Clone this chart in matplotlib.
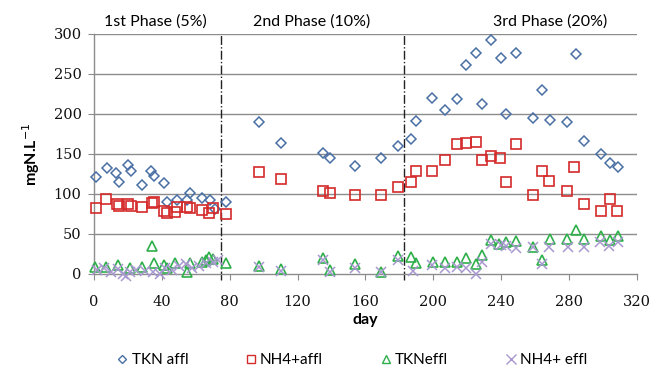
import matplotlib
matplotlib.use("Agg")
import matplotlib.pyplot as plt
from matplotlib.lines import Line2D
from matplotlib import font_manager

# ---------------- data ----------------
tkn_affl_day = [1, 7.5, 13, 14.5, 20, 22, 28.5, 33.6, 35.6, 41, 42.8, 48.7, 54.7, 56.6, 63.5, 68.4, 71.3, 77.8,
                97, 110, 135, 139, 154, 169, 179, 187, 190, 199, 207, 214, 219, 225, 229, 234, 240, 243, 249,
                259, 264, 269, 279, 284, 289, 299, 304, 309]
tkn_affl = [121, 132, 126, 115, 136, 128, 111, 129, 122, 114, 90, 92, 92, 101, 95, 92, 81, 90,
            190, 164, 151, 145, 135, 145, 160, 169, 191, 219, 205, 218, 261, 276, 212, 292, 269, 200, 276,
            195, 230, 192, 190, 274, 166, 150, 138, 133]

nh4_affl_day = [1, 7, 13.5, 15, 20, 22, 28, 34, 35.5, 41, 43, 48, 49, 55, 56.5, 63.5, 68, 70, 77.6,
                97, 110, 135, 139, 154, 169, 179, 187, 190, 199, 207, 214, 219, 225, 229, 234, 239.4, 243, 249,
                259, 264, 268, 279, 283, 289, 299, 304, 308.4]
nh4_affl = [82, 93, 87, 85, 87.5, 85, 84, 88, 90, 78, 76, 77, 84, 83, 82, 80, 76, 82, 75,
            127, 118, 104, 101.6, 98, 98, 108, 114.6, 128, 128, 142, 162, 163, 164.6, 142.5, 146.7, 145, 114.6, 162.5,
            99, 128, 116, 104, 134, 87, 79, 94, 78]

tkn_effl_day = [0.6, 7, 14, 21, 28, 34, 35.5, 41, 43, 48, 55, 56.5, 63.5, 66, 68, 70, 77.6,
                97, 110, 135, 139, 154, 169, 179, 187, 190, 200, 207, 214, 219, 225, 229, 234, 239, 243, 249,
                259, 264, 269, 279, 284, 289, 299, 304, 309]
tkn_effl = [9, 9, 11, 7.5, 9, 35, 14, 11, 7.5, 14, 2, 14, 15, 17, 21.5, 19, 14,
            10, 6, 20, 5, 12, 2.6, 23, 21, 14, 15, 15, 15, 19.6, 13, 24, 42, 38, 39.6, 41.6,
            34, 18, 44, 44, 55, 44, 48, 43, 48]

nh4_effl_day = [2, 6, 10, 14, 17, 19, 21, 25, 30, 35, 39, 42, 46, 50, 54, 58, 62, 66, 70, 73,
                97, 110, 135, 139, 154, 169, 179, 188, 199, 207, 214, 219, 225, 229, 234, 240, 243, 249,
                259, 264, 268, 279.5, 289, 298, 303.7, 309]
nh4_effl = [5, 8, 3, 6, 0, -3, 2, 5, 4, 2, 0, 7, 5, 10, 12, 8, 10, 14, 15, 17,
            9, 4, 17, 2, 7, 3, 18, 4, 11, 7, 9, 7, 0, 15, 38, 36, 35, 32,
            34, 13, 34, 34, 34, 40, 35, 40]

phase_bounds = [75, 183]
phase_labels = ["1st Phase (5%)", "2nd Phase (10%)", "3rd Phase (20%)"]
phase_label_x = [36, 128, 269]
x_ticks = [0, 40, 80, 120, 160, 200, 240, 280, 320]
y_ticks = [0, 50, 100, 150, 200, 250, 300]
legend_labels = ["TKN affl", "NH4+affl", "TKNeffl", "NH4+ effl"]

# ---------------- style ----------------
c_tkn_a = "#4A6FA5"
c_nh4_a = "#D42A2A"
c_tkn_e = "#2EAF4A"
c_nh4_e = "#A898CF"
sans = ["Lato", "DejaVu Sans"]
tick_font = font_manager.FontProperties(family="DejaVu Serif", size=10.5)

fig = plt.figure(figsize=(6.62, 3.71), dpi=100)
ax = fig.add_axes([0.142, 0.2615, 0.820, 0.648])

ax.set_xlim(0, 320)
ax.set_ylim(0, 300)
for y in y_ticks[1:]:
    ax.axhline(y, color="#8C8C8C", lw=1.0, zorder=0)

kw = dict(ls="none", clip_on=False, zorder=3)
ax.plot(tkn_affl_day, tkn_affl, marker="D", ms=4.8, mfc="none", mec=c_tkn_a, mew=1.1, **kw)
ax.plot(nh4_affl_day, nh4_affl, marker="s", ms=7.5, mfc="none", mec=c_nh4_a, mew=1.2, **kw)
ax.plot(tkn_effl_day, tkn_effl, marker="^", ms=6.8, mfc="none", mec=c_tkn_e, mew=1.2, **kw)
ax.plot(nh4_effl_day, nh4_effl, marker="x", ms=7.0, mfc="none", mec=c_nh4_e, mew=1.1, **kw)

for xb in phase_bounds:
    ax.plot([xb, xb], [-8, 300], color="#222222", lw=1.0, ls="-.", clip_on=False, zorder=2)

for lbl, xp in zip(phase_labels, phase_label_x):
    ax.text(xp, 306, lbl, ha="center", va="bottom", fontsize=11.5, family=sans, color="#000000")

for s in ["top", "right"]:
    ax.spines[s].set_visible(False)
for s in ["left", "bottom"]:
    ax.spines[s].set_color("#8C8C8C")
    ax.spines[s].set_linewidth(1.0)

ax.set_xticks(x_ticks)
ax.set_yticks(y_ticks)
ax.tick_params(axis="both", direction="out", length=4, color="#8C8C8C", labelcolor="#111111")
ax.tick_params(axis="x", pad=11)
ax.tick_params(axis="y", pad=5)
for t in ax.xaxis.get_majorticklabels() + ax.yaxis.get_majorticklabels():
    t.set_fontproperties(tick_font)

ax.set_xlabel("day", fontsize=11.5, family=sans, fontweight="bold", labelpad=3)
ax.set_ylabel("mgN.L$^{-1}$", fontsize=11.5, family=sans, fontweight="bold", labelpad=8)

handles = [
    Line2D([], [], ls="none", marker="D", ms=4.0, mfc="none", mec=c_tkn_a, mew=1.0),
    Line2D([], [], ls="none", marker="s", ms=6.0, mfc="none", mec=c_nh4_a, mew=1.0),
    Line2D([], [], ls="none", marker="^", ms=6.0, mfc="none", mec=c_tkn_e, mew=1.0),
    Line2D([], [], ls="none", marker="x", ms=7.0, mfc="none", mec=c_nh4_e, mew=1.0),
]
fig.legend(handles, legend_labels, loc="center",
           bbox_to_anchor=(0.53, 0.03), ncol=4, frameon=False,
           prop={"family": sans, "size": 11}, columnspacing=3.6, handletextpad=0.1, handlelength=1.0)

fig.savefig("out.png", dpi=100)
